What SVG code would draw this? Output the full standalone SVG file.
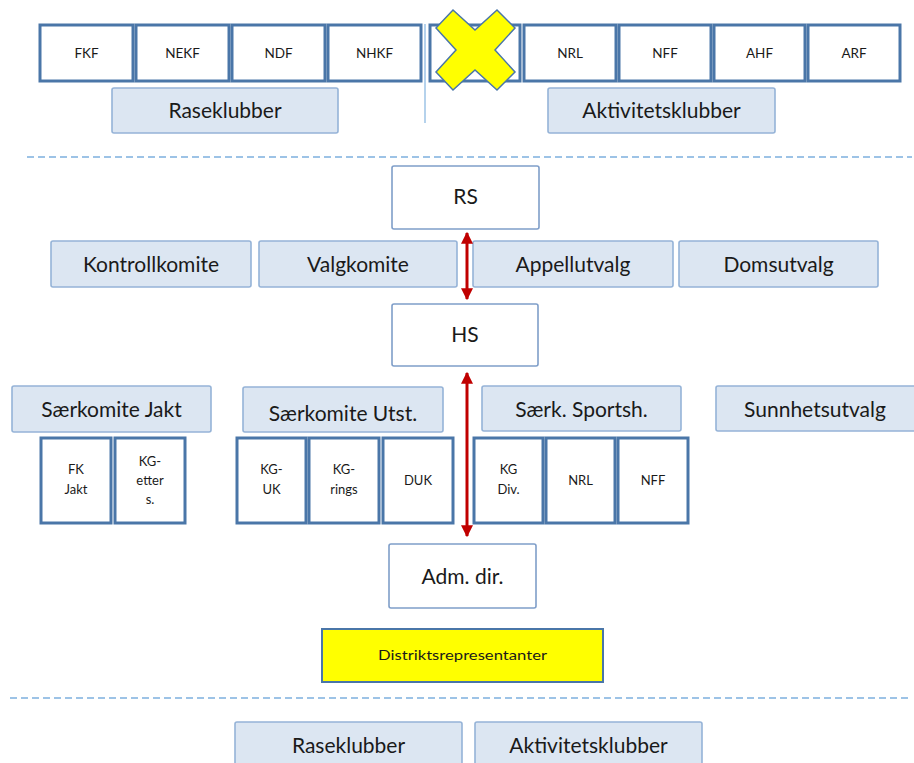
<svg xmlns="http://www.w3.org/2000/svg" width="914" height="763" viewBox="0 0 914 763">
<style>
text{font-family:Lato,"Open Sans","Liberation Sans",sans-serif;fill:#1a1a1a;text-anchor:middle}
.t{font-size:13.5px}
.s{font-size:13px}
.l{font-size:21px}
.box{fill:#fff;stroke:#4a76a8;stroke-width:3}
.lb{fill:#dce6f2;stroke:#95b3d7;stroke-width:1.6}
.wb{fill:#fff;stroke:#7f9ec9;stroke-width:1.6}
.dash{stroke:#9dc3e6;stroke-width:2;stroke-dasharray:7,4;fill:none}
.arr{stroke:#c00000;stroke-width:3;fill:none}
</style>
<defs>
<marker id="ah" viewBox="0 0 10 10" refX="9" refY="5" markerWidth="4" markerHeight="4" orient="auto-start-reverse" markerUnits="strokeWidth">
<path d="M0,0 L10,5 L0,10 z" fill="#c00000"/>
</marker>
</defs>

<g id="separators">
<line x1="425" y1="24" x2="425" y2="123" stroke="#9dc3e6" stroke-width="1.5"/>
<line class="dash" x1="27" y1="157" x2="912" y2="157"/>
<line class="dash" x1="10" y1="698" x2="912" y2="698"/>
</g>

<g id="n-fkf"><rect class="box" x="40" y="25" width="93" height="56"/><text class="t" x="86.5" y="58">FKF</text></g>
<g id="n-nekf"><rect class="box" x="136" y="25" width="93" height="56"/><text class="t" x="182.5" y="58">NEKF</text></g>
<g id="n-ndf"><rect class="box" x="232" y="25" width="93" height="56"/><text class="t" x="278.5" y="58">NDF</text></g>
<g id="n-nhkf"><rect class="box" x="328" y="25" width="93" height="56"/><text class="t" x="374.5" y="58">NHKF</text></g>
<g id="n-crossed"><rect class="box" x="430" y="25" width="90" height="56"/>
<polygon points="436,28 453,10 475,30 497,10 515,28 495,50 515,72 497,90 475,70 453,90 436,72 456,50" fill="#ffff00" stroke="#4a76a8" stroke-width="1.5"/></g>
<g id="n-nrl1"><rect class="box" x="524" y="25" width="92" height="56"/><text class="t" x="570" y="58">NRL</text></g>
<g id="n-nff1"><rect class="box" x="619" y="25" width="92" height="56"/><text class="t" x="665" y="58">NFF</text></g>
<g id="n-ahf"><rect class="box" x="714" y="25" width="91" height="56"/><text class="t" x="759.5" y="58">AHF</text></g>
<g id="n-arf"><rect class="box" x="808" y="25" width="92" height="56"/><text class="t" x="854" y="58">ARF</text></g>

<g id="n-rase-top"><rect class="lb" x="112" y="88" width="226" height="45" rx="2"/><text class="l" x="225" y="118">Raseklubber</text></g>
<g id="n-akt-top"><rect class="lb" x="548" y="88" width="227" height="45" rx="2"/><text class="l" x="661.5" y="118">Aktivitetsklubber</text></g>

<g id="n-rs"><rect class="wb" x="392" y="166" width="147" height="63" rx="2"/><text class="l" x="465.5" y="204">RS</text></g>

<g id="n-kontroll"><rect class="lb" x="51" y="241" width="200" height="46" rx="2"/><text class="l" x="151" y="272">Kontrollkomite</text></g>
<g id="n-valg"><rect class="lb" x="259" y="241" width="198" height="46" rx="2"/><text class="l" x="358" y="272">Valgkomite</text></g>
<g id="n-appell"><rect class="lb" x="473" y="241" width="200" height="46" rx="2"/><text class="l" x="573" y="272">Appellutvalg</text></g>
<g id="n-doms"><rect class="lb" x="679" y="241" width="199" height="46" rx="2"/><text class="l" x="778.5" y="272">Domsutvalg</text></g>

<g id="n-hs"><rect class="wb" x="392" y="304" width="146" height="62" rx="2"/><text class="l" x="465" y="342">HS</text></g>

<g id="n-jakt"><rect class="lb" x="12" y="386" width="199" height="46" rx="2"/><text class="l" x="111.5" y="417">Særkomite Jakt</text></g>
<g id="n-utst"><rect class="lb" x="243" y="387" width="200" height="45" rx="2"/><text class="l" x="343" y="421">Særkomite Utst.</text></g>
<g id="n-sport"><rect class="lb" x="482" y="386" width="199" height="45" rx="2"/><text class="l" x="581.5" y="417">Særk. Sportsh.</text></g>
<g id="n-sunnhet"><rect class="lb" x="716" y="386" width="202" height="45" rx="2"/><text class="l" x="815" y="417">Sunnhetsutvalg</text></g>

<g id="n-fkjakt"><rect class="box" x="41" y="438" width="70" height="85"/><text class="s" x="76" y="474">FK</text><text class="s" x="76" y="494">Jakt</text></g>
<g id="n-kgetters"><rect class="box" x="115" y="438" width="70" height="85"/><text class="s" x="150" y="466">KG-</text><text class="s" x="150" y="485">etter</text><text class="s" x="150" y="504">s.</text></g>
<g id="n-kguk"><rect class="box" x="237" y="438" width="69" height="85"/><text class="s" x="271.5" y="474">KG-</text><text class="s" x="271.5" y="494">UK</text></g>
<g id="n-kgrings"><rect class="box" x="309" y="438" width="70" height="85"/><text class="s" x="344" y="474">KG-</text><text class="s" x="344" y="494">rings</text></g>
<g id="n-duk"><rect class="box" x="383" y="438" width="70" height="85"/><text class="s" x="418" y="485">DUK</text></g>
<g id="n-kgdiv"><rect class="box" x="474" y="438" width="69" height="85"/><text class="s" x="508.5" y="474">KG</text><text class="s" x="508.5" y="494">Div.</text></g>
<g id="n-nrl2"><rect class="box" x="546" y="438" width="69" height="85"/><text class="s" x="580.5" y="485">NRL</text></g>
<g id="n-nff2"><rect class="box" x="618" y="438" width="70" height="85"/><text class="s" x="653" y="485">NFF</text></g>

<g id="n-adm"><rect class="wb" x="389" y="544" width="147" height="64" rx="2"/><text class="l" x="462.5" y="584">Adm. dir.</text></g>

<g id="n-distrikt"><rect x="322" y="629" width="281" height="53" fill="#ffff00" stroke="#4a76a8" stroke-width="2"/><text class="t" x="462.5" y="660" textLength="169" lengthAdjust="spacingAndGlyphs">Distriktsrepresentanter</text></g>

<g id="n-rase-bot"><rect class="lb" x="235" y="722" width="227" height="50" rx="2"/><text class="l" x="348.5" y="753">Raseklubber</text></g>
<g id="n-akt-bot"><rect class="lb" x="475" y="722" width="227" height="50" rx="2"/><text class="l" x="588.5" y="753">Aktivitetsklubber</text></g>

<g id="connectors">
<line class="arr" x1="467" y1="233" x2="467" y2="299" marker-start="url(#ah)" marker-end="url(#ah)"/>
<line class="arr" x1="467" y1="373" x2="467" y2="536" marker-start="url(#ah)" marker-end="url(#ah)"/>
</g>
</svg>
